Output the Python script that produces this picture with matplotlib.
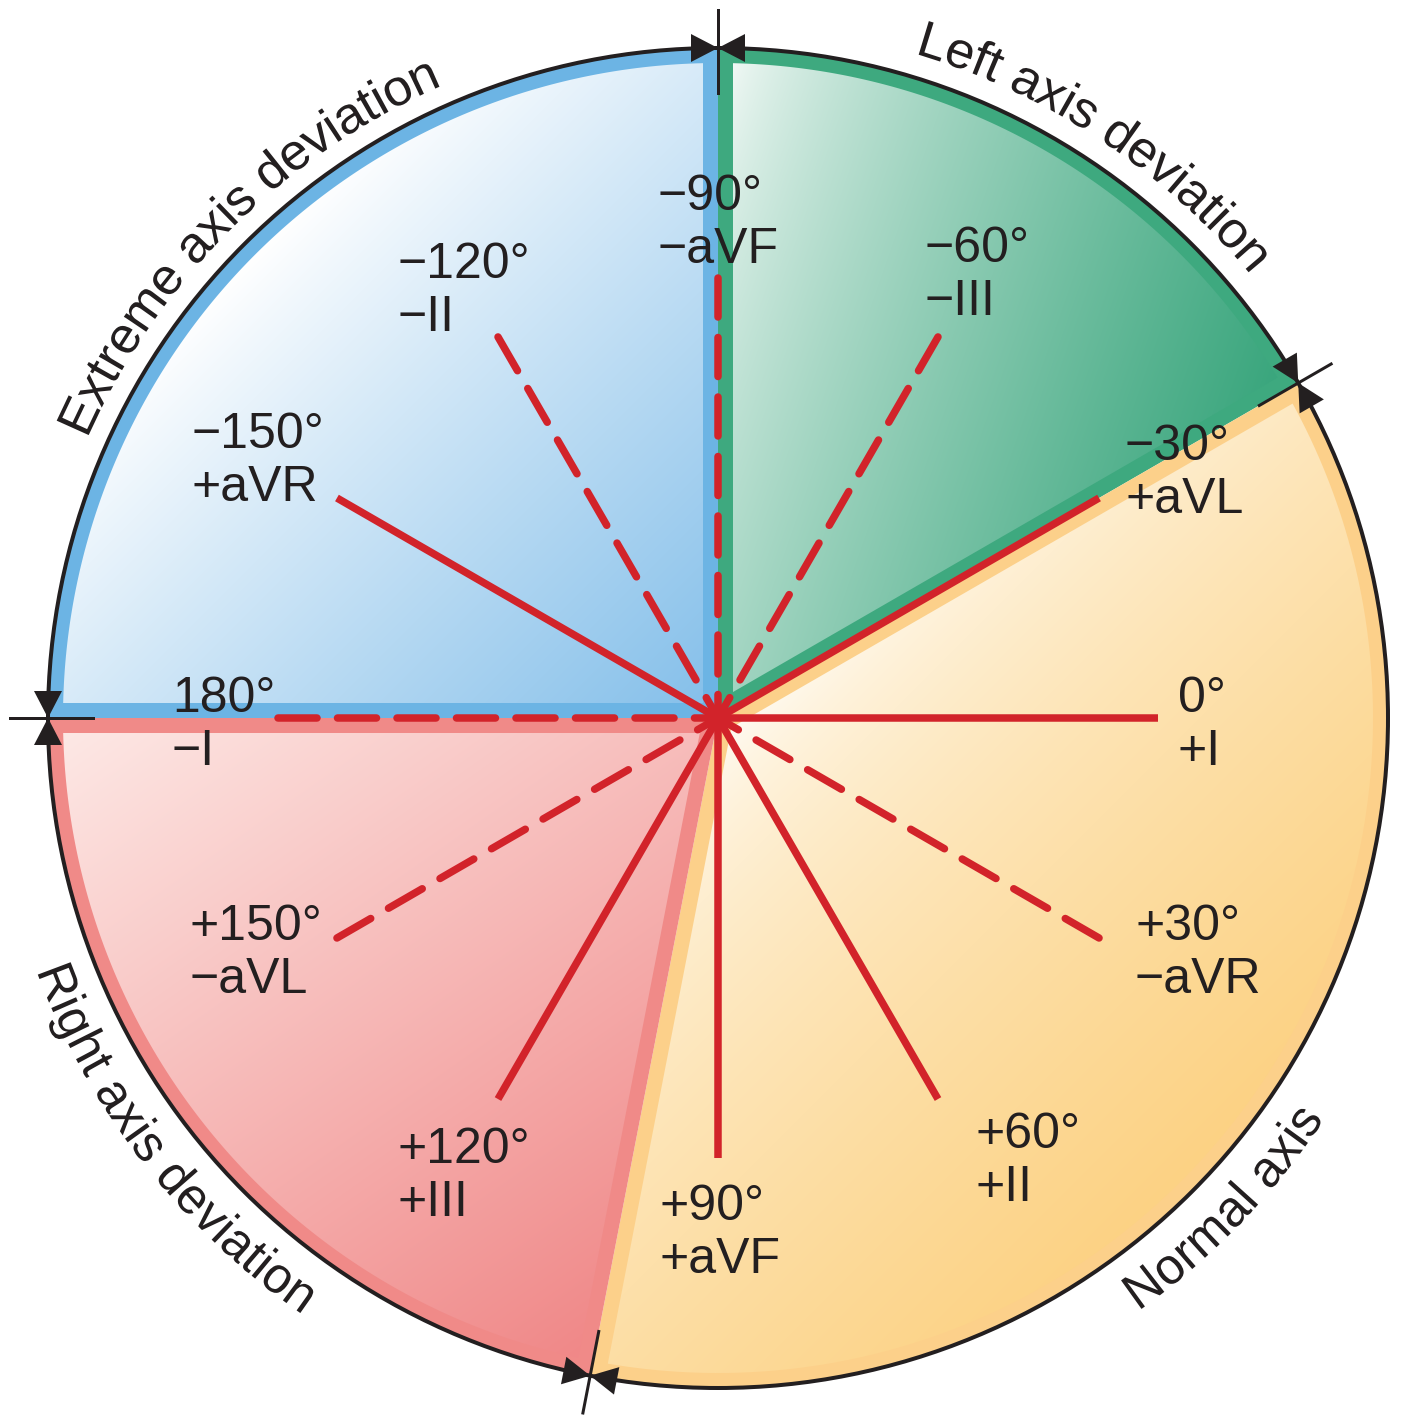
import numpy as np
import matplotlib
matplotlib.use('Agg')
import matplotlib.pyplot as plt
from matplotlib.patches import Wedge, Polygon, Circle, PathPatch
from matplotlib.path import Path
from matplotlib.textpath import TextPath
from matplotlib.font_manager import FontProperties
from matplotlib.colors import to_rgb

plt.rcParams['font.family'] = ['Liberation Sans', 'DejaVu Sans']
plt.rcParams['lines.scale_dashes'] = False

# hexaxial leads (angle in degrees, clockwise = positive)
lead_angles = [-150, -120, -90, -60, -30, 0, 30, 60, 90, 120, 150, 180]
deg_labels = ['−150°', '−120°', '−90°', '−60°', '−30°', '0°',
              '+30°', '+60°', '+90°', '+120°', '+150°', '180°']
lead_labels = ['+aVR', '−II', '−aVF', '−III', '+aVL', '+I',
               '−aVR', '+II', '+aVF', '+III', '−aVL', '−I']
positive = [True, False, False, False, True, True,
            False, True, True, True, False, False]

# axis zones
zone_names = ['Extreme axis deviation', 'Left axis deviation',
              'Normal axis', 'Right axis deviation']
zone_start = [180, 270, -30, 101]
zone_end = [270, 330, 101, 180]
boundaries = [-90, -30, 101, 180]

# styling / layout
zone_band = ['#6cb4e4', '#3ea97f', '#fcd08a', '#f08a88']
zone_light = ['#ffffff', '#f2f9f6', '#fffcf6', '#fde8e5']
zone_dark = ['#86c0ea', '#3aa67d', '#fcd284', '#f08888']
zone_dir = [(1, 1), (1, 0.35), (1, 1), (0.7, 1)]
zone_gamma = [0.9, 0.75, 0.6, 1.0]
zone_mid = [-134.8, -56.6, 44.0, 142.2]
zone_rb = [690, 693, 727, 727]
zone_top = [True, True, False, False]

label_pos = [(192, 448), (398, 278), (658, 210), (925, 262), (1125, 460), (1178, 712),
             (1135, 940), (975, 1148), (660, 1220), (398, 1163), (190, 940), (172, 712)]

W, H = 1402, 1416
cx, cy, R = 718, 718, 670
band = 15
lead_len = 440
px = 0.72
ink = '#231f20'
red = '#d2232a'

fig = plt.figure(figsize=(W / 100, H / 100), dpi=100)
ax = fig.add_axes([0, 0, 1, 1])


def pol(r, a):
    t = np.radians(a)
    return cx + r * np.cos(t), cy + r * np.sin(t)


def inset(a1, a2, w):
    t1, t2 = np.radians(a1), np.radians(a2)
    half = (t2 - t1) / 2
    bis = t1 + half
    d0 = w / np.sin(half)
    p0 = (cx + d0 * np.cos(bis), cy + d0 * np.sin(bis))
    ri = R - w
    d = np.arcsin(w / ri)
    arc = np.linspace(t1 + d, t2 - d, 150)
    pts = [p0] + [(cx + ri * np.cos(t), cy + ri * np.sin(t)) for t in arc]
    return np.array(pts)


gx = np.linspace(0, W, 701)
gy = np.linspace(0, H, 709)
XX, YY = np.meshgrid(gx, gy)

for i in range(4):
    a1, a2 = zone_start[i], zone_end[i]
    ax.add_patch(Wedge((cx, cy), R, a1, a2, facecolor=zone_band[i],
                       edgecolor='none', zorder=1))
    poly = inset(a1, a2, band)
    clip = Polygon(poly, closed=True, facecolor='none', edgecolor='none')
    ax.add_patch(clip)
    dx, dy = zone_dir[i]
    pr = poly[:, 0] * dx + poly[:, 1] * dy
    t = np.clip((XX * dx + YY * dy - pr.min()) / (pr.max() - pr.min()), 0, 1)
    t = t ** zone_gamma[i]
    c0 = np.array(to_rgb(zone_light[i]))
    c1 = np.array(to_rgb(zone_dark[i]))
    img = c0 + (c1 - c0) * t[..., None]
    im = ax.imshow(img, extent=(0, W, H, 0), origin='upper',
                   interpolation='bilinear', aspect='auto', zorder=2)
    im.set_clip_path(clip)

ax.add_patch(Circle((cx, cy), R, fill=False, edgecolor=ink, lw=4 * px, zorder=3))

# lead lines
for ang, pos in zip(lead_angles, positive):
    x1, y1 = pol(lead_len, ang)
    ls = '-' if pos else (0, (39 * px, 20.5 * px))
    ax.plot([x1, cx], [y1, cy], color=red, lw=7.5 * px, ls=ls,
            solid_capstyle='butt', dash_capstyle='round', zorder=4)
ax.add_patch(Circle((cx, cy), 13, color=red, zorder=5))

# boundary markers
for b in boundaries:
    t = np.radians(b)
    u = np.array([np.cos(t), np.sin(t)])
    v = np.array([-np.sin(t), np.cos(t)])
    P = np.array([cx, cy]) + R * u
    p1, p2 = P - 45 * u, P + 38 * u
    ax.plot([p1[0], p2[0]], [p1[1], p2[1]], color=ink, lw=3 * px, zorder=6)
    for s in (-1, 1):
        base = P + s * 27 * v
        ax.add_patch(Polygon([P, base + 14 * u, base - 14 * u], closed=True,
                             facecolor=ink, edgecolor='none', zorder=6))

# lead labels
for (x, y), d, l in zip(label_pos, deg_labels, lead_labels):
    ax.text(x, y, d, ha='left', va='baseline', fontsize=36, color=ink, zorder=7)
    ax.text(x, y + 53, l, ha='left', va='baseline', fontsize=36, color=ink, zorder=7)

# curved zone names
fp = FontProperties(family='Liberation Sans')
for name, mid, rb, top in zip(zone_names, zone_mid, zone_rb, zone_top):
    tp = TextPath((0, 0), name, size=51, prop=fp)
    vv = tp.vertices
    ext = tp.get_extents()
    xc = (ext.x0 + ext.x1) / 2
    sg = 1 if top else -1
    phi = np.radians(mid) + sg * (vv[:, 0] - xc) / rb
    rho = rb + sg * vv[:, 1]
    nv = np.column_stack([cx + rho * np.cos(phi), cy + rho * np.sin(phi)])
    ax.add_patch(PathPatch(Path(nv, tp.codes), facecolor=ink, edgecolor='none', zorder=7))

ax.set_xlim(0, W)
ax.set_ylim(H, 0)
ax.axis('off')

fig.savefig('out.png', dpi=100)
